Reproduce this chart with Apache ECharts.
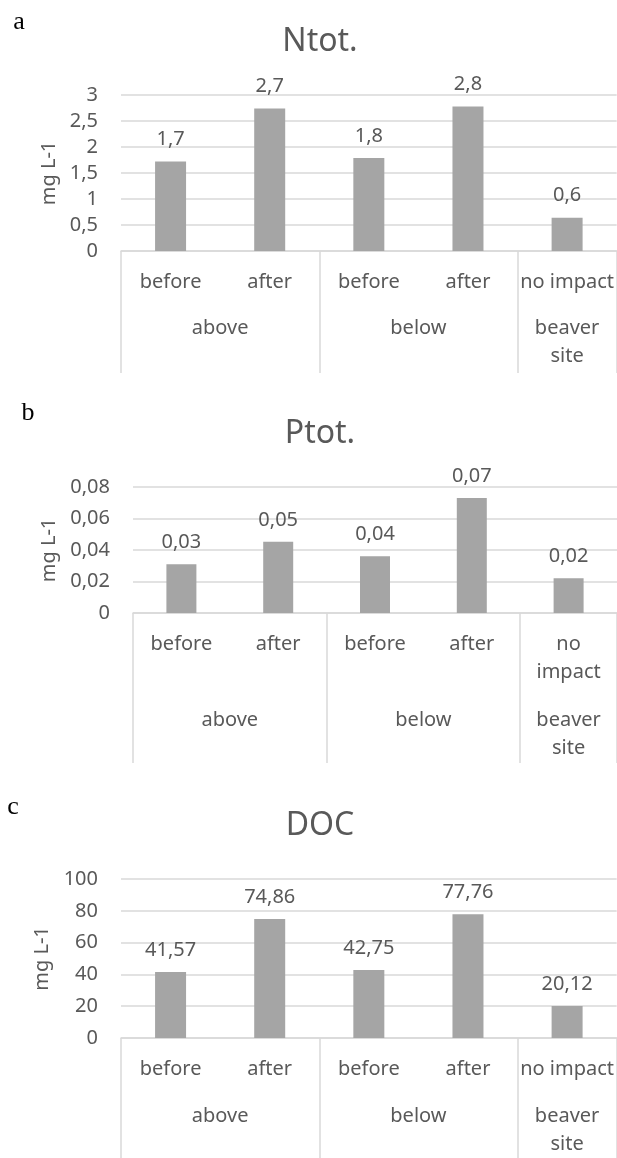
<!DOCTYPE html>
<html>
<head>
<meta charset="utf-8">
<script src="https://cdn.jsdelivr.net/npm/echarts@6/dist/echarts.min.js"></script>
<style>
  html, body { margin: 0; padding: 0; background: #fff; }
  #main { width: 617px; height: 1158px; }
</style>
</head>
<body>
<div id="main"></div>
<script>
'use strict'
// categories
var subCats = ['before', 'after', 'before', 'after', 'no impact'];
var subCatsPtot = ['before', 'after', 'before', 'after', 'no\nimpact'];
var groups = ['above', 'below', 'beaver\nsite'];
var groupEdges = [0, 2, 4, 5];
var groupCenters = [1, 3, 4.5];

// values (mg L-1)
var ntot = [1.72, 2.74, 1.79, 2.78, 0.64];
var ptot = [0.031, 0.0452, 0.036, 0.073, 0.022];
var doc = [41.57, 74.86, 42.75, 77.76, 20.12];

var txt = '#595959';
var line = '#d9d9d9';
var font = '"Noto Sans", sans-serif';

var chart = echarts.init(document.getElementById('main'));

function comma(v, d) {
    if (v === 0) return '0';
    return String(+v.toFixed(d)).replace('.', ',');
}

// one panel = grid + inner category axis + group axis + y axis + bars
var panels = [
    { title: 'Ntot.', cats: subCats, data: ntot, dec: 1, lblDec: 1, max: 3, interval: 0.5,
      top: 95, height: 156, left: 121, tickLen: 122, grpMargin: 63, nameGap: 60, barWidth: 31 },
    { title: 'Ptot.', cats: subCatsPtot, data: ptot, dec: 2, lblDec: 2, max: 0.08, interval: 0.02,
      top: 487, height: 126, left: 133, tickLen: 150, grpMargin: 93, nameGap: 73, barWidth: 30 },
    { title: 'DOC', cats: subCats, data: doc, dec: 0, lblDec: 2, max: 100, interval: 20,
      top: 879, height: 162, left: 121, tickLen: 130, grpMargin: 64, nameGap: 65, barWidth: 31 }
];

var grid = [], xAxis = [], yAxis = [], series = [];

panels.forEach(function (p, i) {
    grid.push({ left: p.left, right: 0, top: p.top, height: p.height });

    xAxis.push({
        type: 'category',
        gridIndex: i,
        data: p.cats,
        axisLine: { lineStyle: { color: line, width: 1.5 } },
        axisTick: { show: false },
        axisLabel: {
            interval: 0,
            margin: 17,
            color: txt,
            fontFamily: font,
            fontSize: 20,
            lineHeight: 28
        }
    });
    xAxis.push({
        type: 'value',
        gridIndex: i,
        position: 'bottom',
        min: 0,
        max: 5,
        axisLine: { show: false },
        splitLine: { show: false },
        axisTick: {
            show: true,
            customValues: groupEdges,
            length: p.tickLen,
            lineStyle: { color: line, width: 1.5 }
        },
        axisLabel: {
            customValues: groupCenters,
            margin: p.grpMargin,
            color: txt,
            fontFamily: font,
            fontSize: 20,
            lineHeight: 28,
            formatter: function (v) {
                return groups[groupCenters.indexOf(v)];
            }
        }
    });

    yAxis.push({
        type: 'value',
        gridIndex: i,
        min: 0,
        max: p.max,
        interval: p.interval,
        name: 'mg L-1',
        nameLocation: 'middle',
        nameGap: p.nameGap,
        nameTextStyle: { color: txt, fontFamily: font, fontSize: 20 },
        axisLine: { show: false },
        axisTick: { show: false },
        splitLine: { lineStyle: { color: line, width: 1.5 } },
        axisLabel: {
            margin: 23,
            color: txt,
            fontFamily: font,
            fontSize: 20,
            formatter: function (v) { return comma(v, p.dec + 1); }
        }
    });

    series.push({
        name: p.title,
        type: 'bar',
        xAxisIndex: i * 2,
        yAxisIndex: i,
        data: p.data,
        barWidth: p.barWidth,
        itemStyle: { color: '#a5a5a5' },
        label: {
            show: true,
            position: 'top',
            distance: 12,
            color: txt,
            fontFamily: font,
            fontSize: 20,
            formatter: function (d) { return d.value.toFixed(p.lblDec).replace('.', ','); }
        }
    });
});

var letterFont = '26px "Liberation Serif"';
var titleFont = '32px "Noto Sans"';
var graphic = [
    { type: 'text', x: 19, y: 22, style: { text: 'a', font: letterFont, fill: '#000', align: 'center', verticalAlign: 'middle' } },
    { type: 'text', x: 28, y: 413, style: { text: 'b', font: letterFont, fill: '#000', align: 'center', verticalAlign: 'middle' } },
    { type: 'text', x: 13, y: 807, style: { text: 'c', font: letterFont, fill: '#000', align: 'center', verticalAlign: 'middle' } },
    { type: 'text', x: 320, y: 42, style: { text: panels[0].title, font: titleFont, fill: txt, align: 'center', verticalAlign: 'middle' } },
    { type: 'text', x: 320, y: 434, style: { text: panels[1].title, font: titleFont, fill: txt, align: 'center', verticalAlign: 'middle' } },
    { type: 'text', x: 320, y: 826, style: { text: panels[2].title, font: titleFont, fill: txt, align: 'center', verticalAlign: 'middle' } }
];

chart.setOption({
    animation: false,
    grid: grid,
    xAxis: xAxis,
    yAxis: yAxis,
    series: series,
    graphic: graphic
});
</script>
</body>
</html>
